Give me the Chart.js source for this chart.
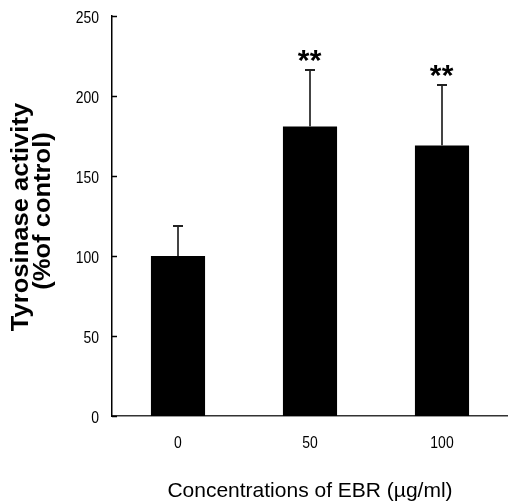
<!DOCTYPE html>
<html><head><meta charset="utf-8">
<script src="https://cdn.jsdelivr.net/npm/chart.js@4/dist/chart.umd.min.js"></script>
<style>html,body{margin:0;padding:0;background:#fff}#wrap{width:508px;height:502px;position:relative}</style>
</head><body><div id="wrap"><canvas id="c" width="508" height="502"></canvas></div>
<script>
const categories = ['0', '50', '100'];
const means = [100, 181, 169];
const errors = [19, 35, 38];
const significance = ['', '**', '**'];
const yTicks = [0, 50, 100, 150, 200, 250];
const xTitle = 'Concentrations of EBR (µg/ml)';
const yTitle = ['Tyrosinase activity', '(%of control)'];

const sans = '"Liberation Sans", Arial, sans-serif';

function stretchedText(ctx, text, x, y, sx, sy, align) {
  ctx.save();
  ctx.translate(x, y);
  ctx.scale(sx, sy);
  ctx.textAlign = align;
  ctx.fillText(text, 0, 0);
  ctx.restore();
}

const decor = {
  id: 'decor',
  afterDatasetsDraw(chart) {
    const ctx = chart.ctx, y = chart.scales.y, x = chart.scales.x;
    const meta = chart.getDatasetMeta(0);
    ctx.save();
    // inward y tick marks
    ctx.strokeStyle = '#000'; ctx.lineWidth = 1.5;
    yTicks.forEach(v => {
      const py = Math.round(y.getPixelForValue(v)) + 0.5;
      ctx.beginPath(); ctx.moveTo(x.left, py); ctx.lineTo(x.left + 5, py); ctx.stroke();
    });
    // tick labels (narrow)
    ctx.fillStyle = '#000';
    ctx.font = '17px ' + sans;
    ctx.textBaseline = 'alphabetic';
    yTicks.forEach(v => {
      const py = y.getPixelForValue(v);
      stretchedText(ctx, String(v), x.left - 13, py + 7, 0.82, 1, 'right');
    });
    categories.forEach((c, i) => {
      const px = x.getPixelForValue(i);
      stretchedText(ctx, c, px, 448, 0.82, 1, 'center');
    });
    // error bars
    ctx.lineWidth = 2;
    meta.data.forEach((bar, i) => {
      const px = Math.round(bar.x);
      const top = Math.round(y.getPixelForValue(means[i] + errors[i]));
      const base = y.getPixelForValue(means[i]);
      ctx.strokeStyle = '#444';
      ctx.beginPath(); ctx.moveTo(px, base); ctx.lineTo(px, top); ctx.stroke();
      ctx.strokeStyle = '#222';
      ctx.beginPath(); ctx.moveTo(px - 5, top); ctx.lineTo(px + 5, top); ctx.stroke();
      if (significance[i]) {
        ctx.fillStyle = '#000';
        ctx.font = 'bold 30px ' + sans;
        ctx.textAlign = 'center'; ctx.textBaseline = 'alphabetic';
        ctx.fillText('*', px - 6.5, top - 0.5);
        ctx.fillText('*', px + 5.5, top - 0.5);
      }
    });
    // axis titles
    ctx.fillStyle = '#000';
    ctx.font = '21px ' + sans;
    ctx.textBaseline = 'alphabetic';
    stretchedText(ctx, xTitle, 310, 497, 1, 1, 'center');
    ctx.font = 'bold 24px ' + sans;
    ctx.save();
    ctx.rotate(-Math.PI / 2);
    // rotated coords: (-yCenter, xBaseline)
    stretchedText(ctx, yTitle[0], -217, 28, 1.065, 1, 'center');
    stretchedText(ctx, yTitle[1], -211, 50, 1.065, 1, 'center');
    ctx.restore();
    ctx.restore();
  }
};

new Chart(document.getElementById('c'), {
  type: 'bar',
  data: {
    labels: categories,
    datasets: [{ data: means, backgroundColor: '#000', borderWidth: 0,
      barPercentage: 0.41, categoryPercentage: 1 }]
  },
  options: {
    responsive: false, animation: false, devicePixelRatio: 1,
    layout: { padding: { top: 16, right: 0, left: 0, bottom: 0 } },
    plugins: { legend: { display: false }, tooltip: { enabled: false } },
    scales: {
      x: {
        grid: { display: false, drawTicks: false },
        border: { display: true, color: '#333', width: 1.5 },
        ticks: { display: false },
        afterFit(s) { s.height = 86; }
      },
      y: {
        min: 0, max: 250,
        afterBuildTicks(s) { s.ticks = yTicks.map(v => ({ value: v })); },
        grid: { display: false, drawTicks: false },
        border: { display: true, color: '#000', width: 1.5 },
        ticks: { display: false },
        afterFit(s) { s.width = 112; }
      }
    }
  },
  plugins: [decor]
});
</script></body></html>
